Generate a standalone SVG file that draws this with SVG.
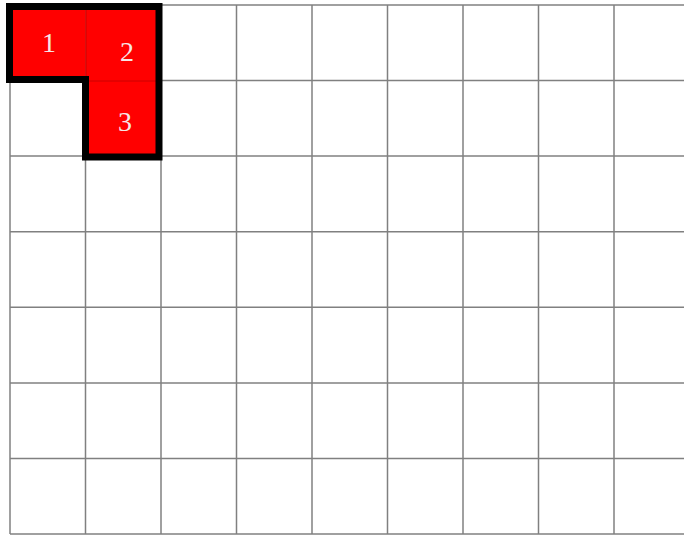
<svg xmlns="http://www.w3.org/2000/svg" width="684" height="536" viewBox="0 0 684 536">
<style>
.grid line{stroke:#808080;stroke-width:1.5}
.cell{fill:#ff0000}
.sep{stroke:#cc0000;stroke-width:1}
.lbl{font-family:"Liberation Serif","Times New Roman",serif;font-size:28px;fill:#f6e6e6;text-anchor:middle}
.outline{fill:none;stroke:#000;stroke-width:7;stroke-linejoin:miter}
</style>
<rect width="684" height="536" fill="#fff"/>
<g id="grid" class="grid">
<line x1="10" y1="5" x2="10" y2="534"/>
<line x1="85.5" y1="5" x2="85.5" y2="534"/>
<line x1="161" y1="5" x2="161" y2="534"/>
<line x1="236.5" y1="5" x2="236.5" y2="534"/>
<line x1="312" y1="5" x2="312" y2="534"/>
<line x1="387.5" y1="5" x2="387.5" y2="534"/>
<line x1="463" y1="5" x2="463" y2="534"/>
<line x1="538.5" y1="5" x2="538.5" y2="534"/>
<line x1="614" y1="5" x2="614" y2="534"/>
<line x1="10" y1="5" x2="684" y2="5"/>
<line x1="10" y1="80.6" x2="684" y2="80.6"/>
<line x1="10" y1="156.1" x2="684" y2="156.1"/>
<line x1="10" y1="231.7" x2="684" y2="231.7"/>
<line x1="10" y1="307.3" x2="684" y2="307.3"/>
<line x1="10" y1="382.9" x2="684" y2="382.9"/>
<line x1="10" y1="458.4" x2="684" y2="458.4"/>
<line x1="10" y1="534" x2="684" y2="534"/>
</g>
<g id="cell1">
<rect class="cell" x="9.5" y="6.5" width="76" height="74.5"/>
<text class="lbl" x="49" y="52">1</text>
</g>
<g id="cell2">
<rect class="cell" x="85.5" y="6.5" width="73.5" height="74.5"/>
<text class="lbl" x="127" y="61">2</text>
</g>
<g id="cell3">
<rect class="cell" x="85.5" y="81" width="73.5" height="76"/>
<text class="lbl" x="125" y="131">3</text>
</g>
<g id="connectors">
<line class="sep" x1="86" y1="10" x2="86" y2="78"/>
<line class="sep" x1="88" y1="81" x2="156" y2="81"/>
</g>
<path id="outline" class="outline" d="M9.5 6.5 H159 V157 H85.5 V79.5 H9.5 Z"/>
</svg>
